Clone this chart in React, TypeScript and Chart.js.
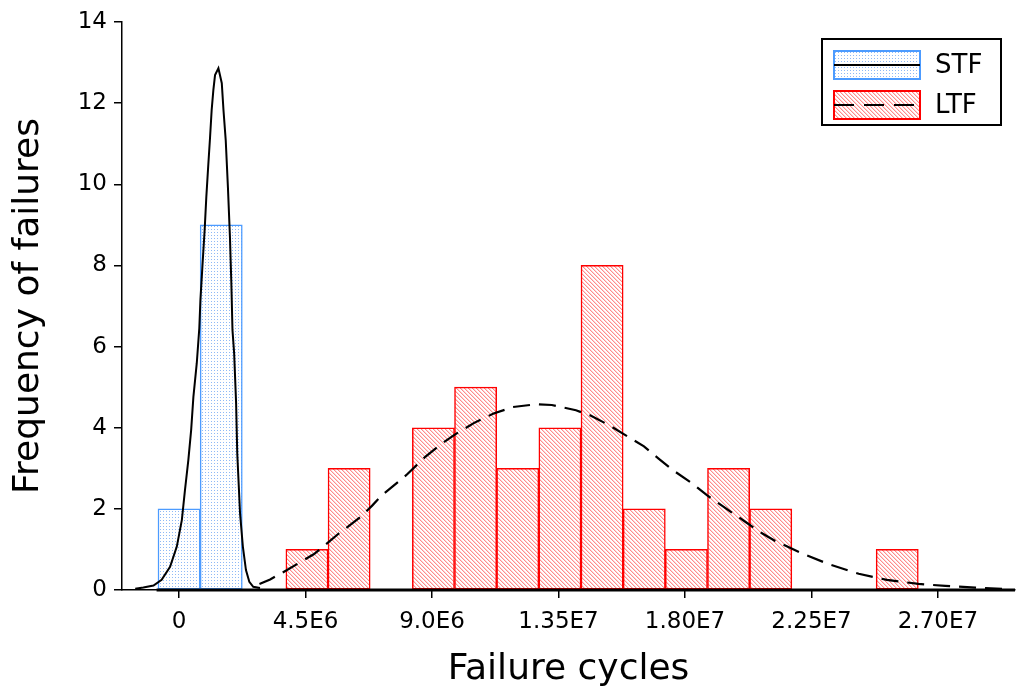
import React, { useEffect, useRef } from "react";
import { Chart, registerables } from "chart.js";

Chart.register(...registerables);

// ---------- data ----------
const stfBinCenters = [0.0, 1.5e6];
const stfCounts = [2, 9];

const ltfBinCenters = [
  4.55e6, 6.05e6, 7.55e6, 9.05e6, 10.55e6, 12.05e6, 13.55e6, 15.05e6,
  16.55e6, 18.05e6, 19.55e6, 21.05e6, 22.55e6, 24.05e6, 25.55e6,
];
const ltfCounts = [1, 3, 0, 4, 5, 3, 4, 8, 2, 1, 3, 2, 0, 0, 1];

// fitted density curve for STF
const stfCurveX = [
  -1.56e6, -1.27e6, -0.91e6, -0.62e6, -0.32e6, -0.08e6, 0.1e6, 0.21e6, 0.33e6,
  0.43e6, 0.51e6, 0.63e6, 0.72e6, 0.76e6, 0.83e6, 0.91e6, 0.97e6, 1.04e6,
  1.1e6, 1.16e6, 1.22e6, 1.28e6, 1.4e6, 1.52e6, 1.58e6, 1.66e6, 1.74e6,
  1.81e6, 1.86e6, 1.9e6, 1.96e6, 2.03e6, 2.07e6, 2.17e6, 2.27e6, 2.38e6,
  2.5e6, 2.64e6, 2.88e6,
];
const stfCurveY = [
  0.03, 0.06, 0.11, 0.25, 0.57, 1.07, 1.73, 2.46, 3.2, 3.94, 4.76, 5.59, 6.45,
  7.15, 7.97, 8.87, 9.69, 10.48, 11.13, 11.83, 12.32, 12.69, 12.86, 12.49,
  11.83, 11.09, 9.9, 8.71, 7.56, 6.41, 5.83, 4.6, 3.37, 1.89, 1.07, 0.49, 0.2,
  0.08, 0.05,
];

// fitted density curve for LTF
const ltfCurveX = [
  2.86e6, 3.24e6, 3.81e6, 4.79e6, 5.23e6, 5.66e6, 6.44e6, 6.87e6, 7.21e6,
  8.08e6, 8.77e6, 9.29e6, 9.81e6, 10.5e6, 11.19e6, 11.88e6, 12.74e6, 13.26e6,
  14.12e6, 14.64e6, 15.33e6, 15.85e6, 16.54e6, 17.06e6, 17.58e6, 18.27e6,
  18.79e6, 19.48e6, 20.17e6, 20.69e6, 21.21e6, 22.16e6, 23.14e6, 24.18e6,
  25.18e6, 26.31e6, 27.26e6, 28.33e6, 29.3e6,
];
const ltfCurveY = [
  0.15, 0.26, 0.48, 0.88, 1.13, 1.38, 1.79, 2.08, 2.33, 2.83, 3.29, 3.58, 3.83,
  4.12, 4.35, 4.51, 4.58, 4.56, 4.43, 4.3, 4.05, 3.83, 3.54, 3.24, 2.95, 2.62,
  2.33, 2.0, 1.67, 1.42, 1.21, 0.9, 0.63, 0.4, 0.25, 0.15, 0.1, 0.06, 0.03,
];

// histogram baseline
const baselineX = [-0.8e6, 2.974e7];
const baselineY = [0, 0];

const xTickValues = [0, 4.5e6, 9.0e6, 1.35e7, 1.8e7, 2.25e7, 2.7e7];
const xTickLabels = ["0", "4.5E6", "9.0E6", "1.35E7", "1.80E7", "2.25E7", "2.70E7"];
const yTickValues = [0, 2, 4, 6, 8, 10, 12, 14];

const seriesLabels = ["STF", "LTF"];
const xTitle = "Failure cycles";
const yTitle = "Frequency of failures";

const FONT = '"DejaVu Sans", "Noto Sans", sans-serif';

function makeDotPattern(ctx: CanvasRenderingContext2D) {
  const c = document.createElement("canvas");
  c.width = 3;
  c.height = 3;
  const g = c.getContext("2d")!;
  g.fillStyle = "#ffffff";
  g.fillRect(0, 0, 3, 3);
  g.fillStyle = "#8fb9f5";
  g.fillRect(1, 1, 1, 1);
  return ctx.createPattern(c, "repeat")!;
}

function makeHatchPattern(ctx: CanvasRenderingContext2D) {
  const c = document.createElement("canvas");
  c.width = 4;
  c.height = 4;
  const g = c.getContext("2d")!;
  g.fillStyle = "#ffffff";
  g.fillRect(0, 0, 4, 4);
  for (let i = 0; i < 4; i++) {
    g.fillStyle = "rgba(255,70,70,0.62)";
    g.fillRect(i, i, 1, 1);
    g.fillStyle = "rgba(255,130,130,0.35)";
    g.fillRect((i + 1) % 4, i, 1, 1);
  }
  return ctx.createPattern(c, "repeat")!;
}

const boxLegend = {
  id: "boxLegend",
  afterDraw(chart: any) {
    const ctx: CanvasRenderingContext2D = chart.ctx;
    const area = chart.chartArea;
    const ds = chart.data.datasets;
    const items = [
      { label: seriesLabels[0], bar: ds[3], line: ds[0] },
      { label: seriesLabels[1], bar: ds[4], line: ds[1] },
    ];
    const x0 = area.right - 193;
    const y0 = area.top + 17;
    const w = 179;
    const h = 86;
    ctx.save();
    ctx.fillStyle = "#ffffff";
    ctx.fillRect(x0, y0, w, h);
    ctx.lineWidth = 2;
    ctx.strokeStyle = "#000000";
    ctx.strokeRect(x0, y0, w, h);
    items.forEach((it, i) => {
      const sx = x0 + 12;
      const sy = y0 + 12 + i * 40;
      const sw = 86;
      const sh = 28;
      ctx.fillStyle = it.bar.backgroundColor;
      ctx.fillRect(sx, sy, sw, sh);
      ctx.lineWidth = 2;
      ctx.strokeStyle = it.bar.borderColor;
      ctx.strokeRect(sx, sy, sw, sh);
      ctx.beginPath();
      ctx.setLineDash(it.line.borderDash ? [20, 10] : []);
      ctx.moveTo(sx, sy + sh / 2);
      ctx.lineTo(sx + sw, sy + sh / 2);
      ctx.strokeStyle = "#000000";
      ctx.lineWidth = 2;
      ctx.stroke();
      ctx.setLineDash([]);
      ctx.fillStyle = "#000000";
      ctx.font = `26px ${FONT}`;
      ctx.textBaseline = "middle";
      ctx.textAlign = "left";
      ctx.fillText(it.label, sx + sw + 15, sy + sh / 2 + 1);
    });
    ctx.restore();
  },
};

export default function App() {
  const ref = useRef<HTMLCanvasElement | null>(null);

  useEffect(() => {
    const canvas = ref.current!;
    const ctx = canvas.getContext("2d")!;
    const dots = makeDotPattern(ctx);
    const hatch = makeHatchPattern(ctx);

    const axisCommon = {
      grid: {
        display: true,
        drawOnChartArea: false,
        drawTicks: true,
        tickLength: 8,
        color: "#000000",
        lineWidth: 1.5,
        offset: false,
      },
      border: { display: true, color: "#000000", width: 1.5 },
    };

    const chart = new Chart(canvas, {
      type: "bar",
      data: {
        datasets: [
          {
            type: "line",
            label: "STF fit",
            data: stfCurveX.map((x, i) => ({ x, y: stfCurveY[i] })),
            borderColor: "#000000",
            borderWidth: 2,
            pointRadius: 0,
            tension: 0,
            fill: false,
            order: 1,
            clip: false,
          },
          {
            type: "line",
            label: "LTF fit",
            data: ltfCurveX.map((x, i) => ({ x, y: ltfCurveY[i] })),
            borderColor: "#000000",
            borderWidth: 2.2,
            borderDash: [17, 9],
            pointRadius: 0,
            tension: 0,
            fill: false,
            order: 1,
            clip: false,
          },
          {
            type: "line",
            label: "baseline",
            data: baselineX.map((x, i) => ({ x, y: baselineY[i] })),
            borderColor: "#000000",
            borderWidth: 3,
            pointRadius: 0,
            fill: false,
            order: 1,
            clip: false,
          },
          {
            type: "bar",
            label: seriesLabels[0],
            data: stfBinCenters.map((x, i) => ({ x, y: stfCounts[i] })),
            backgroundColor: dots,
            borderColor: "#4c9bff",
            borderWidth: 1.5,
            borderSkipped: false,
            barPercentage: 1,
            categoryPercentage: 1,
            grouped: false,
            order: 2,
          },
          {
            type: "bar",
            label: seriesLabels[1],
            data: ltfBinCenters.map((x, i) => ({ x, y: ltfCounts[i] })),
            backgroundColor: hatch,
            borderColor: "#ff0000",
            borderWidth: 1.5,
            borderSkipped: false,
            barPercentage: 1,
            categoryPercentage: 1,
            grouped: false,
            order: 2,
          },
        ] as any,
      },
      options: {
        animation: false,
        responsive: false,
        layout: { padding: { top: 22, right: 1, left: 0, bottom: 0 } },
        plugins: {
          legend: { display: false },
          tooltip: { enabled: false },
        },
        scales: {
          x: {
            type: "linear",
            min: -2.03e6,
            max: 2.974e7,
            offset: false,
            ...axisCommon,
            afterBuildTicks: (s: any) => {
              s.ticks = xTickValues.map((v) => ({ value: v }));
            },
            afterFit: (s: any) => {
              s.height = 106;
            },
            ticks: {
              autoSkip: false,
              maxRotation: 0,
              minRotation: 0,
              padding: 10,
              color: "#000000",
              font: { family: FONT, size: 23 },
              callback: (v: any) => {
                const i = xTickValues.indexOf(Number(v));
                return i >= 0 ? xTickLabels[i] : "";
              },
            },
            title: {
              display: true,
              text: xTitle,
              color: "#000000",
              font: { family: FONT, size: 36 },
              padding: { top: 0, bottom: 5 },
            },
          },
          y: {
            type: "linear",
            min: 0,
            max: 14,
            ...axisCommon,
            afterBuildTicks: (s: any) => {
              s.ticks = yTickValues.map((v) => ({ value: v }));
            },
            afterFit: (s: any) => {
              s.width = 122;
            },
            ticks: {
              padding: 7,
              color: "#000000",
              font: { family: FONT, size: 23 },
              callback: (v: any) => String(v),
            },
            title: {
              display: true,
              text: yTitle,
              color: "#000000",
              font: { family: FONT, size: 36 },
              padding: { top: 7, bottom: 0 },
            },
          },
        },
      } as any,
      plugins: [boxLegend],
    });

    return () => chart.destroy();
  }, []);

  return (
    <div
      style={{
        position: "fixed",
        left: 0,
        top: 0,
        width: 1016,
        height: 696,
        background: "#ffffff",
      }}
    >
      <canvas ref={ref} width={1016} height={696} style={{ display: "block" }} />
    </div>
  );
}
